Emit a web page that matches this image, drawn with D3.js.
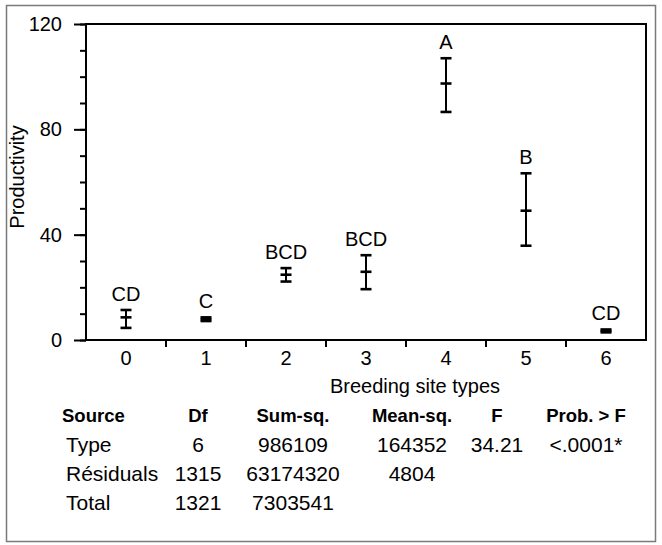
<!DOCTYPE html>
<html>
<head>
<meta charset="utf-8">
<script src="https://cdn.jsdelivr.net/npm/d3@7/dist/d3.min.js"></script>
<style>
  body { margin: 0; background: #fff; }
  text { font-family: "Liberation Sans", Arial, sans-serif; fill: #000; }
</style>
</head>
<body>
<div id="chart"></div>
<script>
// Breeding site types on the x axis
const categories = ['0', '1', '2', '3', '4', '5', '6'];
// mean productivity with lower / upper bounds of the error bar
const means = [8.6, 7.9, 24.8, 25.9, 97.4, 49.1, 3.45];
const lower = [4.6, 7.2, 22.2, 19.3, 86.6, 35.8, 2.9];
const upper = [11.4, 8.6, 27.3, 32.2, 107.0, 63.3, 4.0];
// significance groups
const groups = ['CD', 'C', 'BCD', 'BCD', 'A', 'B', 'CD'];

const yMajor = [0, 40, 80, 120];
const yMinor = d3.range(0, 121, 10);

// ANOVA table
const tableHeader = ['Source', 'Df', 'Sum-sq.', 'Mean-sq.', 'F', 'Prob. > F'];
const tableRows = [
    ['Type', '6', '986109', '164352', '34.21', '<.0001*'],
    ['Résiduals', '1315', '63174320', '4804', '', ''],
    ['Total', '1321', '7303541', '', '', '']
];

const width = 662;
const height = 545;
const plot = { left: 86, right: 646, top: 24, bottom: 340 };

const svg = d3.select('#chart')
    .append('svg')
    .attr('width', width)
    .attr('height', height);

// outer gray frame
svg.append('rect')
    .attr('x', 6.5)
    .attr('y', 5.5)
    .attr('width', 649)
    .attr('height', 536)
    .attr('fill', 'none')
    .attr('stroke', '#7a7a7a')
    .attr('stroke-width', 1.5);

const x = d3.scaleBand()
    .domain(categories)
    .range([plot.left, plot.right]);

const y = d3.scaleLinear()
    .domain([0, 120])
    .range([plot.bottom, plot.top]);

// minor y ticks
svg.append('g')
    .attr('transform', `translate(${plot.left},0)`)
    .call(d3.axisLeft(y).tickValues(yMinor).tickSize(6).tickSizeOuter(0).tickFormat(''))
    .call(g => g.select('.domain').remove())
    .call(g => g.selectAll('line').attr('stroke', '#000').attr('stroke-width', 2));

// major y ticks + labels
svg.append('g')
    .attr('transform', `translate(${plot.left},0)`)
    .call(d3.axisLeft(y).tickValues(yMajor).tickSize(12).tickSizeOuter(0).tickPadding(12))
    .call(g => g.select('.domain').remove())
    .call(g => g.selectAll('line').attr('stroke', '#000').attr('stroke-width', 2))
    .call(g => g.selectAll('text').attr('font-size', 20).attr('font-family', null).attr('fill', '#000'));

// x labels
svg.append('g')
    .attr('transform', `translate(0,${plot.bottom})`)
    .call(d3.axisBottom(x).tickSize(0).tickSizeOuter(0).tickPadding(11))
    .call(g => g.select('.domain').remove())
    .call(g => g.selectAll('text').attr('font-size', 20).attr('font-family', null).attr('fill', '#000'));

// x ticks on band boundaries
svg.append('g')
    .selectAll('line')
    .data(categories.slice(1))
    .join('line')
    .attr('x1', d => x(d))
    .attr('x2', d => x(d))
    .attr('y1', plot.bottom)
    .attr('y2', plot.bottom + 7)
    .attr('stroke', '#000')
    .attr('stroke-width', 2);

// plot frame
svg.append('rect')
    .attr('x', plot.left)
    .attr('y', plot.top)
    .attr('width', plot.right - plot.left)
    .attr('height', plot.bottom - plot.top)
    .attr('fill', 'none')
    .attr('stroke', '#000')
    .attr('stroke-width', 2);

// axis titles
svg.append('text')
    .attr('transform', `translate(24,${177}) rotate(-90)`)
    .attr('text-anchor', 'middle')
    .attr('font-size', 20)
    .text('Productivity');

svg.append('text')
    .attr('x', 415)
    .attr('y', 393)
    .attr('text-anchor', 'middle')
    .attr('font-size', 20)
    .text('Breeding site types');

// error bars
const bars = categories.map((c, i) => ({ c, mean: means[i], lo: lower[i], hi: upper[i], g: groups[i] }));
const cap = 5.5;
const eb = svg.append('g')
    .attr('stroke', '#000')
    .attr('stroke-width', 2);

eb.selectAll('line.stem')
    .data(bars)
    .join('line')
    .attr('class', 'stem')
    .attr('x1', d => x(d.c) + x.bandwidth() / 2)
    .attr('x2', d => x(d.c) + x.bandwidth() / 2)
    .attr('y1', d => y(d.lo))
    .attr('y2', d => y(d.hi));

['lo', 'hi', 'mean'].forEach(k => {
    eb.selectAll('line.' + k)
        .data(bars)
        .join('line')
        .attr('class', k)
        .attr('x1', d => x(d.c) + x.bandwidth() / 2 - cap)
        .attr('x2', d => x(d.c) + x.bandwidth() / 2 + cap)
        .attr('y1', d => y(d[k]))
        .attr('y2', d => y(d[k]))
        .attr('stroke-width', 2.6);
});

// group letters
svg.append('g')
    .selectAll('text')
    .data(bars)
    .join('text')
    .attr('x', d => x(d.c) + x.bandwidth() / 2)
    .attr('y', d => y(d.hi) - 9)
    .attr('text-anchor', 'middle')
    .attr('font-size', 20)
    .text(d => d.g);

// ANOVA table
const colX = [62, 198, 293, 412, 497, 586];
const rowY = [422, 452, 481, 510];

const table = svg.append('g');
table.selectAll('text.head')
    .data(tableHeader)
    .join('text')
    .attr('class', 'head')
    .attr('x', (d, i) => colX[i])
    .attr('y', rowY[0])
    .attr('text-anchor', (d, i) => i === 0 ? 'start' : 'middle')
    .attr('font-size', 18.5)
    .attr('font-weight', 'bold')
    .text(d => d);

tableRows.forEach((row, r) => {
    table.selectAll('text.r' + r)
        .data(row)
        .join('text')
        .attr('class', 'r' + r)
        .attr('x', (d, i) => i === 0 ? colX[0] + 4 : colX[i])
        .attr('y', rowY[r + 1])
        .attr('text-anchor', (d, i) => i === 0 ? 'start' : 'middle')
        .attr('font-size', 21)
        .text(d => d);
});
</script>
</body>
</html>
